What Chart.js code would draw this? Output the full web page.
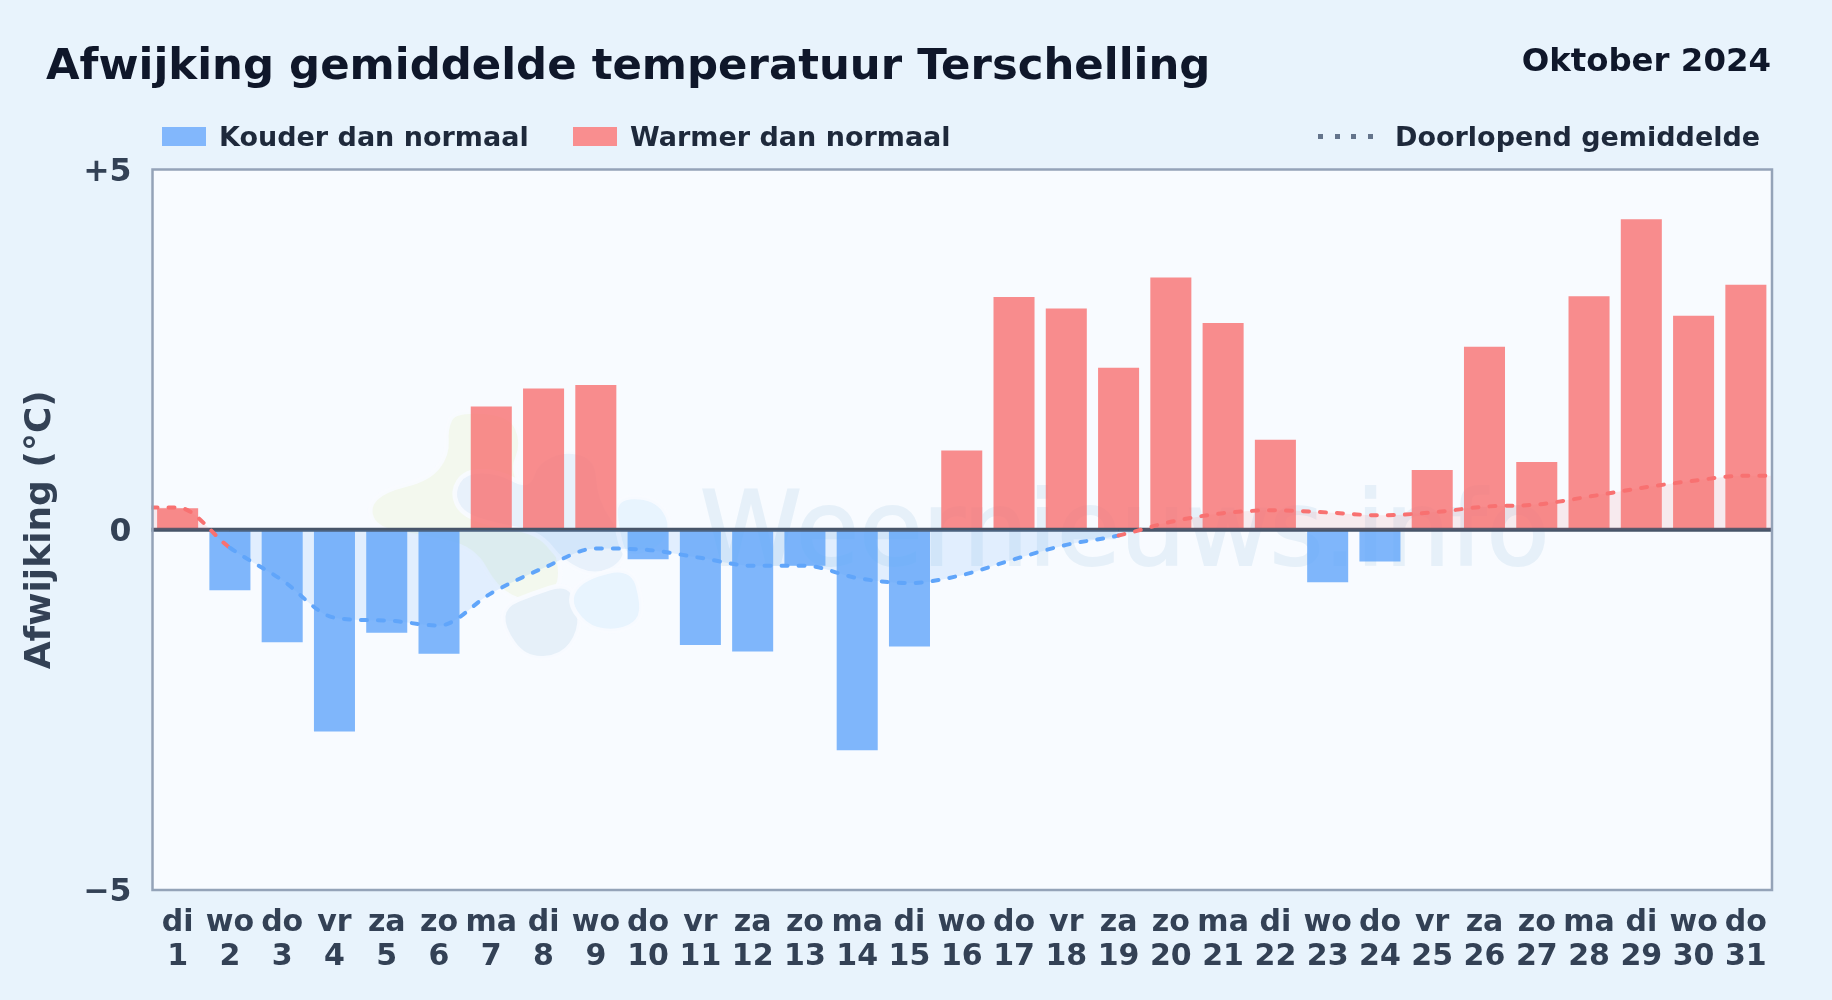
<!doctype html>
<html lang="nl">
  <head>
    <meta charset="utf-8">
    <title>Afwijking gemiddelde temperatuur Terschelling</title>
    <style>
      * {
        margin: 0;
        padding: 0;
        font-family: "DejaVu Sans", sans-serif;
        font-weight: bold;
      }
      body {
        width: 1832px;
        height: 1000px;
        overflow: hidden;
        position: relative;
        background: #e8f3fc;
      }
      canvas { position: absolute; left: 0; top: 0; }
      .txt { position: absolute; line-height: 1; white-space: nowrap; }
      .title { left: 46px; top: 43px; font-size: 43.4px; color: #0f172a; }
      .period { right: 61px; top: 44px; font-size: 32.4px; color: #0f172a; }
      .legend { font-size: 27px; top: 122.5px; color: #1e293b; }
      .swatch { position: absolute; top: 127px; width: 44px; height: 19px; }
      .dots {
        position: absolute; left: 1317.5px; top: 134px; width: 55px; height: 5px;
        background: repeating-linear-gradient(90deg, #64748b 0 5px, transparent 5px 16.6px);
      }
    </style>
  </head>
  <body>
    <canvas id="myChart" width="1832" height="1000"></canvas>
    <div class="txt title">Afwijking gemiddelde temperatuur Terschelling</div>
    <div class="txt period">Oktober 2024</div>
    <div class="swatch" style="left:162px;background:#82b7fc"></div>
    <div class="txt legend" style="left:219px">Kouder dan normaal</div>
    <div class="swatch" style="left:573px;background:#f98e8f"></div>
    <div class="txt legend" style="left:630px">Warmer dan normaal</div>
    <div class="dots"></div>
    <div class="txt legend" style="left:1395px">Doorlopend gemiddelde</div>

    <script src="https://cdn.jsdelivr.net/npm/chart.js@4.4.1/dist/chart.umd.min.js"></script>
    <script>
    // data block
    const weekdays = ['di','wo','do','vr','za','zo','ma','di','wo','do','vr','za','zo','ma','di','wo','do','vr','za','zo','ma','di','wo','do','vr','za','zo','ma','di','wo','do'];
    const days = [1,2,3,4,5,6,7,8,9,10,11,12,13,14,15,16,17,18,19,20,21,22,23,24,25,26,27,28,29,30,31];
    const deviation = [0.30,-0.84,-1.56,-2.80,-1.43,-1.72,1.71,1.96,2.01,-0.41,-1.60,-1.69,-0.50,-3.06,-1.62,1.10,3.23,3.07,2.25,3.50,2.87,1.25,-0.73,-0.44,0.83,2.54,0.94,3.24,4.31,2.97,3.40];
    const runningMean = [0.31,-0.25,-0.70,-1.22,-1.26,-1.33,-0.88,-0.53,-0.26,-0.28,-0.39,-0.50,-0.50,-0.67,-0.74,-0.63,-0.41,-0.21,-0.08,0.11,0.23,0.27,0.24,0.20,0.24,0.32,0.35,0.46,0.58,0.68,0.75];
    const yTicks = [-5, 0, 5];

    const coldBar = 'rgba(96, 165, 250, 0.8)';
    const warmBar = 'rgba(248, 113, 113, 0.8)';

    // the mean line runs on to both plot edges
    const linePoints = days.map((d, i) => ({ x: d, y: runningMean[i] }));
    linePoints.unshift({ x: 0.5, y: runningMean[0] });
    linePoints.push({ x: 31.5, y: runningMean[runningMean.length - 1] });

    // blobs of the watermark logo, in crop units (3 per pixel)
    const logoBlobs = [
      { color: '#f3f8ee', pts: [[290,60],[440,70],[475,150],[440,230],[520,320],[580,480],[560,560],[480,580],[400,540],[340,430],[200,400],[80,380],[55,320],[100,275],[220,245],[270,180],[265,110]] },
      { color: '#e8f1fb', pts: [[305,280],[340,225],[430,225],[510,270],[530,200],[610,165],[695,190],[700,300],[770,400],[770,470],[690,510],[600,470],[540,390],[420,370],[330,340]] },
      { color: '#e6f0f9', pts: [[440,680],[445,620],[520,590],[610,560],[645,610],[650,690],[600,760],[500,765]] },
      { color: '#e8f4fe', pts: [[635,600],[680,540],[810,510],[840,620],[820,670],[750,690],[680,670]] },
      { color: '#e8f4fe', pts: [[770,300],[880,300],[930,370],[900,440],[804,470],[780,400]] }
    ];

    // plot background and watermark block
    const plotBackdrop = {
      id: 'plotBackdrop',
      beforeDatasetsDraw: (chart) => {
        const { ctx, chartArea: { top, bottom, left, right } } = chart;
        ctx.save();
        ctx.fillStyle = '#f8fbff';
        ctx.fillRect(left, top, right - left, bottom - top);

        ctx.translate(360, 400);
        ctx.scale(1 / 3, 1 / 3);
        logoBlobs.forEach((blob) => {
          // midpoint curves pull the outline in, so push the points out a bit
          const cx = blob.pts.reduce((s, q) => s + q[0], 0) / blob.pts.length;
          const cy = blob.pts.reduce((s, q) => s + q[1], 0) / blob.pts.length;
          const p = blob.pts.map(q => [cx + (q[0] - cx) * 1.12, cy + (q[1] - cy) * 1.12]);
          ctx.beginPath();
          ctx.moveTo((p[0][0] + p[p.length - 1][0]) / 2, (p[0][1] + p[p.length - 1][1]) / 2);
          p.forEach((pt, i) => {
            const next = p[(i + 1) % p.length];
            ctx.quadraticCurveTo(pt[0], pt[1], (pt[0] + next[0]) / 2, (pt[1] + next[1]) / 2);
          });
          ctx.closePath();
          ctx.fillStyle = blob.color;
          ctx.fill();
          ctx.lineWidth = 14;
          ctx.strokeStyle = 'rgba(248, 251, 255, 0.9)';
          ctx.stroke();
        });
        ctx.restore();

        ctx.save();
        ctx.font = '103px "DejaVu Sans"';
        ctx.fillStyle = '#e6f0f9';
        ctx.strokeStyle = '#e6f0f9';
        ctx.lineWidth = 2;
        ctx.textBaseline = 'alphabetic';
        ctx.fillText('Weernieuws.info', 700, 565);
        ctx.strokeText('Weernieuws.info', 700, 565);
        ctx.restore();
      }
    };

    // zero line sits on the bars, below the mean line
    const zeroLine = {
      id: 'zeroLine',
      afterDatasetDraw: (chart, args) => {
        if (args.index !== 0) return;
        const { ctx, chartArea: { left, right }, scales: { y } } = chart;
        const zero = y.getPixelForValue(0);
        ctx.save();
        ctx.strokeStyle = '#475569';
        ctx.lineWidth = 4;
        ctx.beginPath();
        ctx.moveTo(left, zero);
        ctx.lineTo(right, zero);
        ctx.stroke();
        ctx.restore();
      },
      afterDraw: (chart) => {
        const { ctx, chartArea: { top, bottom, left, right } } = chart;
        ctx.save();
        ctx.strokeStyle = '#94a3b8';
        ctx.lineWidth = 2.5;
        ctx.strokeRect(left + 1, top, right - left - 1, bottom - top);
        ctx.restore();
      }
    };

    // config block
    const config = {
      type: 'bar',
      data: {
        datasets: [{
          label: 'Afwijking',
          data: days.map((d, i) => ({ x: d, y: deviation[i] })),
          backgroundColor: deviation.map(v => v < 0 ? coldBar : warmBar),
          barPercentage: 0.785,
          categoryPercentage: 1,
          order: 2
        }, {
          type: 'line',
          label: 'Doorlopend gemiddelde',
          data: linePoints,
          borderColor: '#60a5fa',
          borderWidth: 4,
          borderDash: [6, 11],
          borderCapStyle: 'round',
          cubicInterpolationMode: 'monotone',
          pointRadius: 0,
          // a segment is red as soon as one of its ends is above zero
          segment: {
            borderColor: (c) => (c.p0.parsed.y >= 0 || c.p1.parsed.y >= 0) ? '#f87171' : '#60a5fa'
          },
          fill: {
            target: 'origin',
            above: 'rgba(248, 113, 113, 0.12)',
            below: 'rgba(96, 165, 250, 0.15)'
          },
          order: 1
        }]
      },
      options: {
        responsive: false,
        animation: false,
        layout: { padding: { top: 169.5, right: 60, bottom: 0, left: 0 } },
        plugins: { legend: { display: false }, tooltip: { enabled: false } },
        scales: {
          x: {
            type: 'linear',
            offset: false,
            min: 0.5,
            max: 31.5,
            grid: { display: false, drawTicks: false },
            border: { display: false },
            afterFit: (axis) => { axis.height = 110; },
            afterBuildTicks: (axis) => { axis.ticks = days.map(d => ({ value: d })); },
            ticks: {
              autoSkip: false,
              maxRotation: 0,
              padding: 16,
              color: '#334155',
              callback: (v) => [weekdays[v - 1], String(v)],
              font: { family: 'DejaVu Sans', weight: 'bold', size: 30, lineHeight: 1.14 }
            }
          },
          y: {
            min: -5,
            max: 5,
            afterFit: (axis) => { axis.width = 151.5; },
            afterBuildTicks: (axis) => { axis.ticks = yTicks.map(v => ({ value: v })); },
            grid: { display: false, drawTicks: false },
            border: { display: false },
            title: {
              display: true,
              text: 'Afwijking (°C)',
              color: '#334155',
              padding: { top: 19, bottom: 0 },
              font: { family: 'DejaVu Sans', weight: 'bold', size: 36 }
            },
            ticks: {
              padding: 20,
              labelOffset: 3.3,
              color: '#334155',
              callback: (v) => v > 0 ? '+' + v : (v < 0 ? '\u2212' + Math.abs(v) : '0'),
              font: { family: 'DejaVu Sans', weight: 'bold', size: 31.5 }
            }
          }
        }
      },
      plugins: [plotBackdrop, zeroLine]
    };

    // init render block
    const myChart = new Chart(document.getElementById('myChart'), config);
    </script>
  </body>
</html>
